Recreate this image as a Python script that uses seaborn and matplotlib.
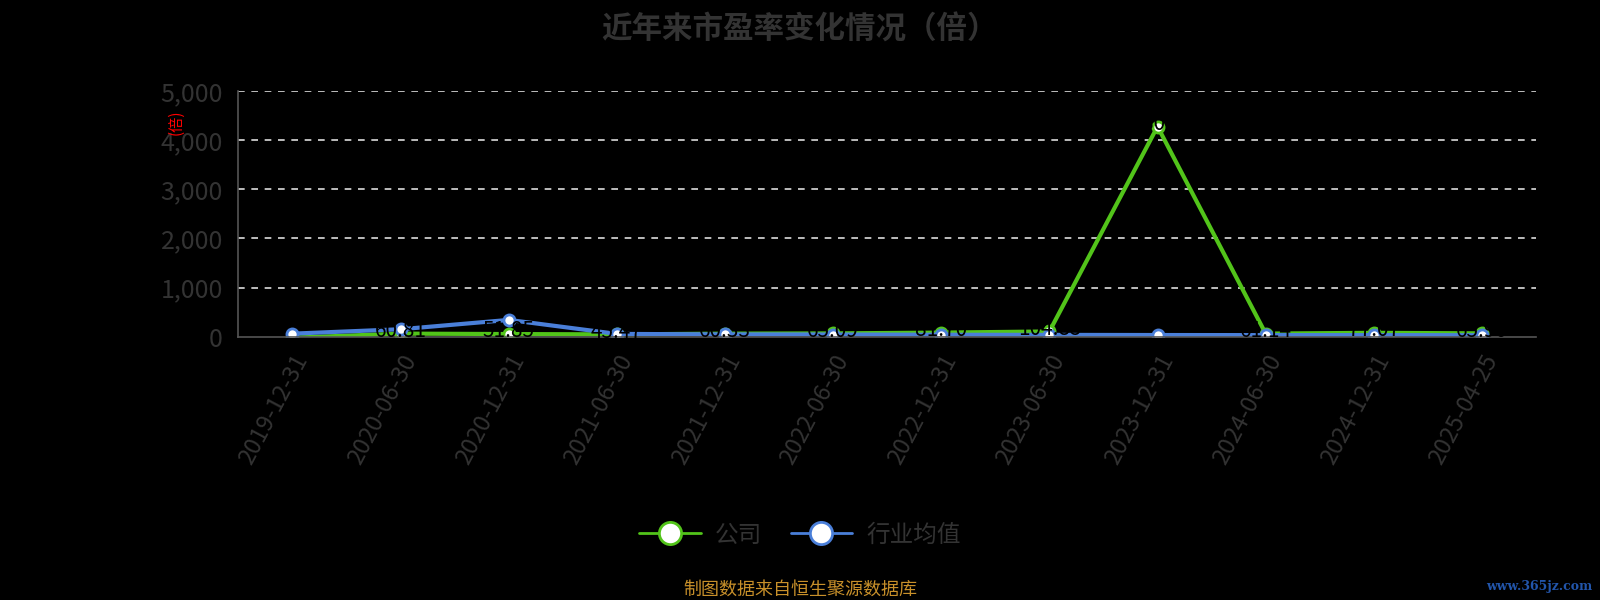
import pandas as pd
import numpy as np
import seaborn as sns
import matplotlib.pyplot as plt
from matplotlib.ticker import FuncFormatter, FixedLocator

dates = ['2019-12-31', '2020-06-30', '2020-12-31', '2021-06-30', '2021-12-31', '2022-06-30',
         '2022-12-31', '2023-06-30', '2023-12-31', '2024-06-30', '2024-12-31', '2025-04-25']
company = [-22.90, 60.81, 51.85, 45.47, 60.33, 65.09, 81.70, 104.85, 4280.0, 61.14, 77.07, 65.90]
industry = [60.0, 150.0, 340.0, 55.0, 45.0, 42.0, 38.0, 35.0, 32.0, 30.0, 30.0, 28.0]
series_names = ['公司', '行业均值']
yticks = [0, 1000, 2000, 3000, 4000, 5000]

sns.set_style('dark')
plt.rcParams['font.family'] = ['Noto Sans CJK SC', 'DejaVu Sans']
plt.rcParams['axes.unicode_minus'] = False

green = '#52c41a'
blue = '#4a7fd9'
grey = '#333333'

df = pd.DataFrame({'date': dates * 2,
                   'x': list(range(len(dates))) * 2,
                   'value': company + industry,
                   'series': [series_names[0]] * len(dates) + [series_names[1]] * len(dates)})

fig = plt.figure(figsize=(16, 6), dpi=100, facecolor='black')
ax = fig.add_axes([0.149, 0.439, 0.811, 0.409])
ax.set_facecolor('black')

ax = sns.lineplot(data=df, x='x', y='value', hue='series', palette=[green, blue],
                  marker='o', markersize=8, markerfacecolor='white', markeredgewidth=2,
                  linewidth=3, ax=ax, legend=False)
for line, c in zip(ax.lines, [green, blue]):
    line.set_markeredgecolor(c)

# data labels (black, mostly hidden on the dark background)
for i, v in enumerate(company):
    ax.annotate(f'{v:.2f}', (i, v), xytext=(0, -6), textcoords='offset points',
                ha='center', va='bottom', fontsize=15, color='black', zorder=5)

ax.set_xlim(-0.5, len(dates) - 0.5)
ax.set_ylim(0, 5000)
ax.yaxis.set_major_locator(FixedLocator(yticks))
ax.yaxis.set_major_formatter(FuncFormatter(lambda v, p: f'{int(v):,}'))
ax.set_xticks(range(len(dates)))
ax.set_xticklabels(dates, rotation=62, ha='right', rotation_mode='anchor')
ax.xaxis.set_minor_locator(FixedLocator(np.arange(-0.5, len(dates), 1)))
ax.tick_params(axis='x', which='major', length=0, pad=10, labelsize=17, labelcolor=grey)
ax.tick_params(axis='x', which='minor', length=6, width=1.2, color='#555555')
ax.tick_params(axis='y', length=6, width=1.2, color='#555555', labelsize=18, labelcolor=grey, pad=5)

ax.grid(False)
for y in yticks[1:]:
    ax.axhline(y, color='#dddddd', linestyle=(0, (4, 4)), linewidth=1.2, zorder=0)
for s in ['top', 'right']:
    ax.spines[s].set_visible(False)
ax.spines['left'].set_color('#555555')
ax.spines['bottom'].set_color('#555555')
ax.spines['left'].set_linewidth(1.2)
ax.spines['bottom'].set_linewidth(1.2)
ax.set_xlabel('')
ax.set_ylabel('')

fig.text(0.110, 0.797, '(倍)', rotation=90, color='red', fontsize=11, ha='center', va='center')
fig.suptitle('近年来市盈率变化情况（倍）', x=0.5, y=0.978, fontsize=22, fontweight='bold', color=grey)

handles = [plt.Line2D([], [], color=c, marker='o', markersize=16, markerfacecolor='white',
                      markeredgecolor=c, markeredgewidth=2, linewidth=2) for c in [green, blue]]
fig.legend(handles, series_names, loc='center', bbox_to_anchor=(0.5, 0.108), ncol=2, frameon=False,
           fontsize=17, labelcolor=grey, handlelength=2.6, columnspacing=1.2, handletextpad=0.6)

fig.text(0.5, 0.017, '制图数据来自恒生聚源数据库', ha='center', va='center', fontsize=13, color='#c8902a')
fig.text(0.995, 0.022, 'www.365jz.com', ha='right', va='center', fontsize=9, color='#2255aa',
         fontweight='bold', family='DejaVu Serif')

plt.savefig('out.png', facecolor='black')
